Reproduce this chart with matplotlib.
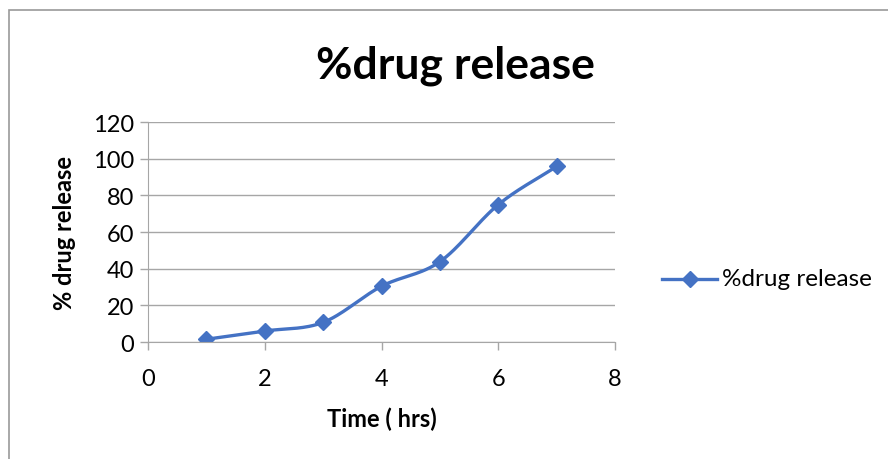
import numpy as np
import matplotlib.pyplot as plt
from matplotlib.patches import Rectangle

# drug release data
time_hrs = [1, 2, 3, 4, 5, 6, 7]
release = [1.5, 6.0, 10.7, 30.4, 43.8, 74.9, 95.8]
x_ticks = [0, 2, 4, 6, 8]
y_ticks = [0, 20, 40, 60, 80, 100, 120]

plt.rcParams['font.family'] = ['Lato', 'DejaVu Sans']


def smooth(xs, ys, n=30):
    # catmull-rom style curve, like excel's smoothed line
    xs = np.asarray(xs, float)
    ys = np.asarray(ys, float)
    px = np.concatenate([[2 * xs[0] - xs[1]], xs, [2 * xs[-1] - xs[-2]]])
    py = np.concatenate([[2 * ys[0] - ys[1]], ys, [2 * ys[-1] - ys[-2]]])
    ox, oy = [], []
    t = np.linspace(0, 1, n)
    for i in range(1, len(px) - 2):
        for arr, out in ((px, ox), (py, oy)):
            p0, p1, p2, p3 = arr[i - 1], arr[i], arr[i + 1], arr[i + 2]
            out.extend(0.5 * ((2 * p1) + (-p0 + p2) * t
                              + (2 * p0 - 5 * p1 + 4 * p2 - p3) * t ** 2
                              + (-p0 + 3 * p1 - 3 * p2 + p3) * t ** 3))
    return np.array(ox), np.array(oy)


fig = plt.figure(figsize=(8.88, 4.6), dpi=100)
fig.patches.append(Rectangle((9 / 888, -0.1), 1.2, 1 - 11 / 460 + 0.1,
                             transform=fig.transFigure, fill=False,
                             edgecolor='#999999', linewidth=1.2))

ax = fig.add_axes([148 / 888, 117 / 460, 467 / 888, 220 / 460])
sx, sy = smooth(time_hrs, release)
ax.plot(sx, sy, color='#4472C4', linewidth=2.4)
ax.plot(time_hrs, release, linestyle='none', marker='D', markersize=8,
        color='#4472C4')

ax.set_xlim(0, 8)
ax.set_ylim(0, 120)
ax.set_xticks(x_ticks)
ax.set_yticks(y_ticks)
ax.grid(axis='y', color='#a6a6a6', linewidth=1)
ax.set_axisbelow(True)
for s in ['top', 'right']:
    ax.spines[s].set_visible(False)
for s in ['left', 'bottom']:
    ax.spines[s].set_color('#a6a6a6')
ax.tick_params(colors='#a6a6a6', labelcolor='black', labelsize=17,
               length=6, width=1)
ax.tick_params(axis='x', pad=13)
ax.tick_params(axis='y', pad=4)

ax.set_xlabel('Time ( hrs)', fontsize=17, fontweight='bold', labelpad=12)
ax.set_ylabel('% drug release', fontsize=17, fontweight='bold', labelpad=12)

fig.text(455 / 888, 1 - 66 / 460, '%drug release', ha='center', va='center',
         fontsize=32, fontweight='bold')

# legend drawn by hand at the right of the plot
lx = [662, 690, 717]
fig.add_artist(plt.Line2D([lx[0] / 888, lx[2] / 888], [1 - 280 / 460] * 2,
                          color='#4472C4', linewidth=2.4))
fig.add_artist(plt.Line2D([lx[1] / 888], [1 - 280 / 460], marker='D',
                          markersize=8, color='#4472C4'))
fig.text(722 / 888, 1 - 280 / 460, '%drug release', ha='left', va='center',
         fontsize=17.5)

fig.savefig('out.png', dpi=100)
